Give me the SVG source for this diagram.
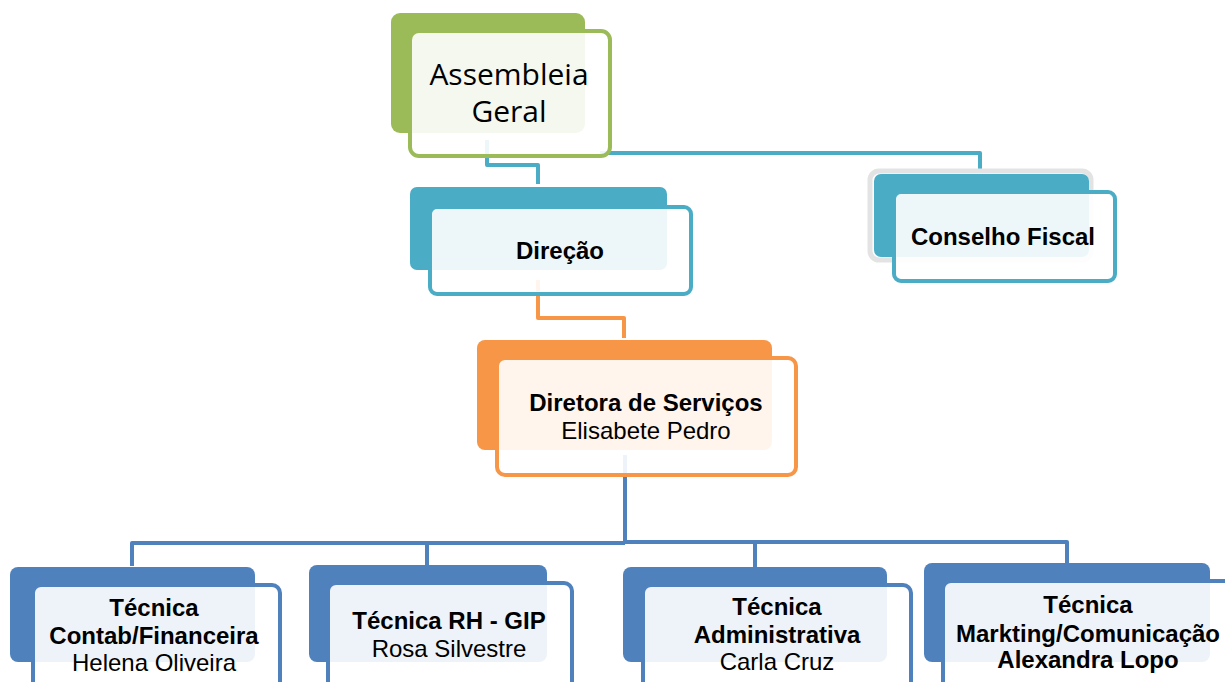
<svg xmlns="http://www.w3.org/2000/svg" width="1225" height="682" viewBox="0 0 1225 682">
<style>
.conn{fill:none;stroke-width:4;stroke-linejoin:round}
.front{fill:#ffffff;fill-opacity:0.9;stroke-width:4}
.t{font-family:"Liberation Sans",Arial,sans-serif;font-size:24px;fill:#000;text-anchor:middle}
.b{font-weight:bold}
.green .back{fill:#9bbb59}.green .front{stroke:#9bbb59}
.teal .back{fill:#4bacc6}.teal .front{stroke:#4bacc6}
.orange .back{fill:#f79646}.orange .front{stroke:#f79646}
.blue .back{fill:#4f81bd}.blue .front{stroke:#4f81bd}
</style>
<rect width="1225" height="682" fill="#ffffff"/>
<g id="connectors">
<path class="conn" stroke="#4bacc6" d="M487,140 V165 H538 V184"/>
<path class="conn" stroke="#4bacc6" d="M600,153 H980 V172"/>
<path class="conn" stroke="#f79646" d="M538,280 V318 H624 V338"/>
<path class="conn" stroke="#4f81bd" d="M625,455 V543"/>
<path class="conn" stroke="#4f81bd" d="M625,543 H132 V566"/>
<path class="conn" stroke="#4f81bd" d="M427,543 V565"/>
<path class="conn" stroke="#4f81bd" d="M625,542 H1067 V563"/>
<path class="conn" stroke="#4f81bd" d="M755,542 V567"/>
</g>
<g id="assembleia" class="green">
<rect class="back" x="391" y="13" width="194" height="120" rx="9"/>
<rect class="front" x="410" y="31" width="200" height="125" rx="9"/>
<text x="509" y="85" font-family="'Open Sans','Noto Sans',sans-serif" font-size="30" text-anchor="middle" fill="#000">Assembleia</text>
<text x="509" y="122" font-family="'Open Sans','Noto Sans',sans-serif" font-size="30" text-anchor="middle" fill="#000">Geral</text>
</g>
<g id="direcao" class="teal">
<rect class="back" x="410" y="187" width="257" height="83" rx="7"/>
<rect class="front" x="430" y="207" width="261" height="87" rx="7"/>
<text class="t b" x="560" y="259">Direção</text>
</g>
<g id="conselho" class="teal">
<rect x="870" y="171" width="221" height="89" rx="9" fill="none" stroke="#e3e3e3" stroke-width="5"/>
<rect class="back" x="874" y="174" width="215" height="83" rx="7"/>
<rect class="front" x="894" y="192" width="221" height="89" rx="7"/>
<text class="t b" x="1003" y="245">Conselho Fiscal</text>
</g>
<g id="diretora" class="orange">
<rect class="back" x="477" y="340" width="295" height="110" rx="8"/>
<rect class="front" x="497" y="358" width="299" height="117" rx="8"/>
<text class="t b" x="646" y="411">Diretora de Serviços</text>
<text class="t" x="646" y="439">Elisabete Pedro</text>
</g>
<g id="contab" class="blue">
<rect class="back" x="10" y="567" width="245" height="95" rx="8"/>
<rect class="front" x="33" y="585" width="247" height="120" rx="8"/>
<text class="t b" x="154" y="616">Técnica</text>
<text class="t b" x="154" y="644">Contab/Financeira</text>
<text class="t" x="154" y="671">Helena Oliveira</text>
</g>
<g id="rh" class="blue">
<rect class="back" x="309" y="565" width="238" height="97" rx="8"/>
<rect class="front" x="328" y="583" width="244" height="120" rx="8"/>
<text class="t b" x="449" y="629">Técnica RH - GIP</text>
<text class="t" x="449" y="657">Rosa Silvestre</text>
</g>
<g id="admin" class="blue">
<rect class="back" x="623" y="567" width="264" height="95" rx="8"/>
<rect class="front" x="643" y="585" width="268" height="120" rx="8"/>
<text class="t b" x="777" y="615">Técnica</text>
<text class="t b" x="777" y="643">Administrativa</text>
<text class="t" x="777" y="670">Carla Cruz</text>
</g>
<g id="marketing" class="blue">
<rect class="back" x="924" y="563" width="286" height="99" rx="8"/>
<rect class="front" x="943" y="581" width="300" height="125" rx="8"/>
<text class="t b" x="1088" y="613">Técnica</text>
<text class="t b" x="1088" y="642">Markting/Comunicação</text>
<text class="t b" x="1088" y="668">Alexandra Lopo</text>
</g>
</svg>
